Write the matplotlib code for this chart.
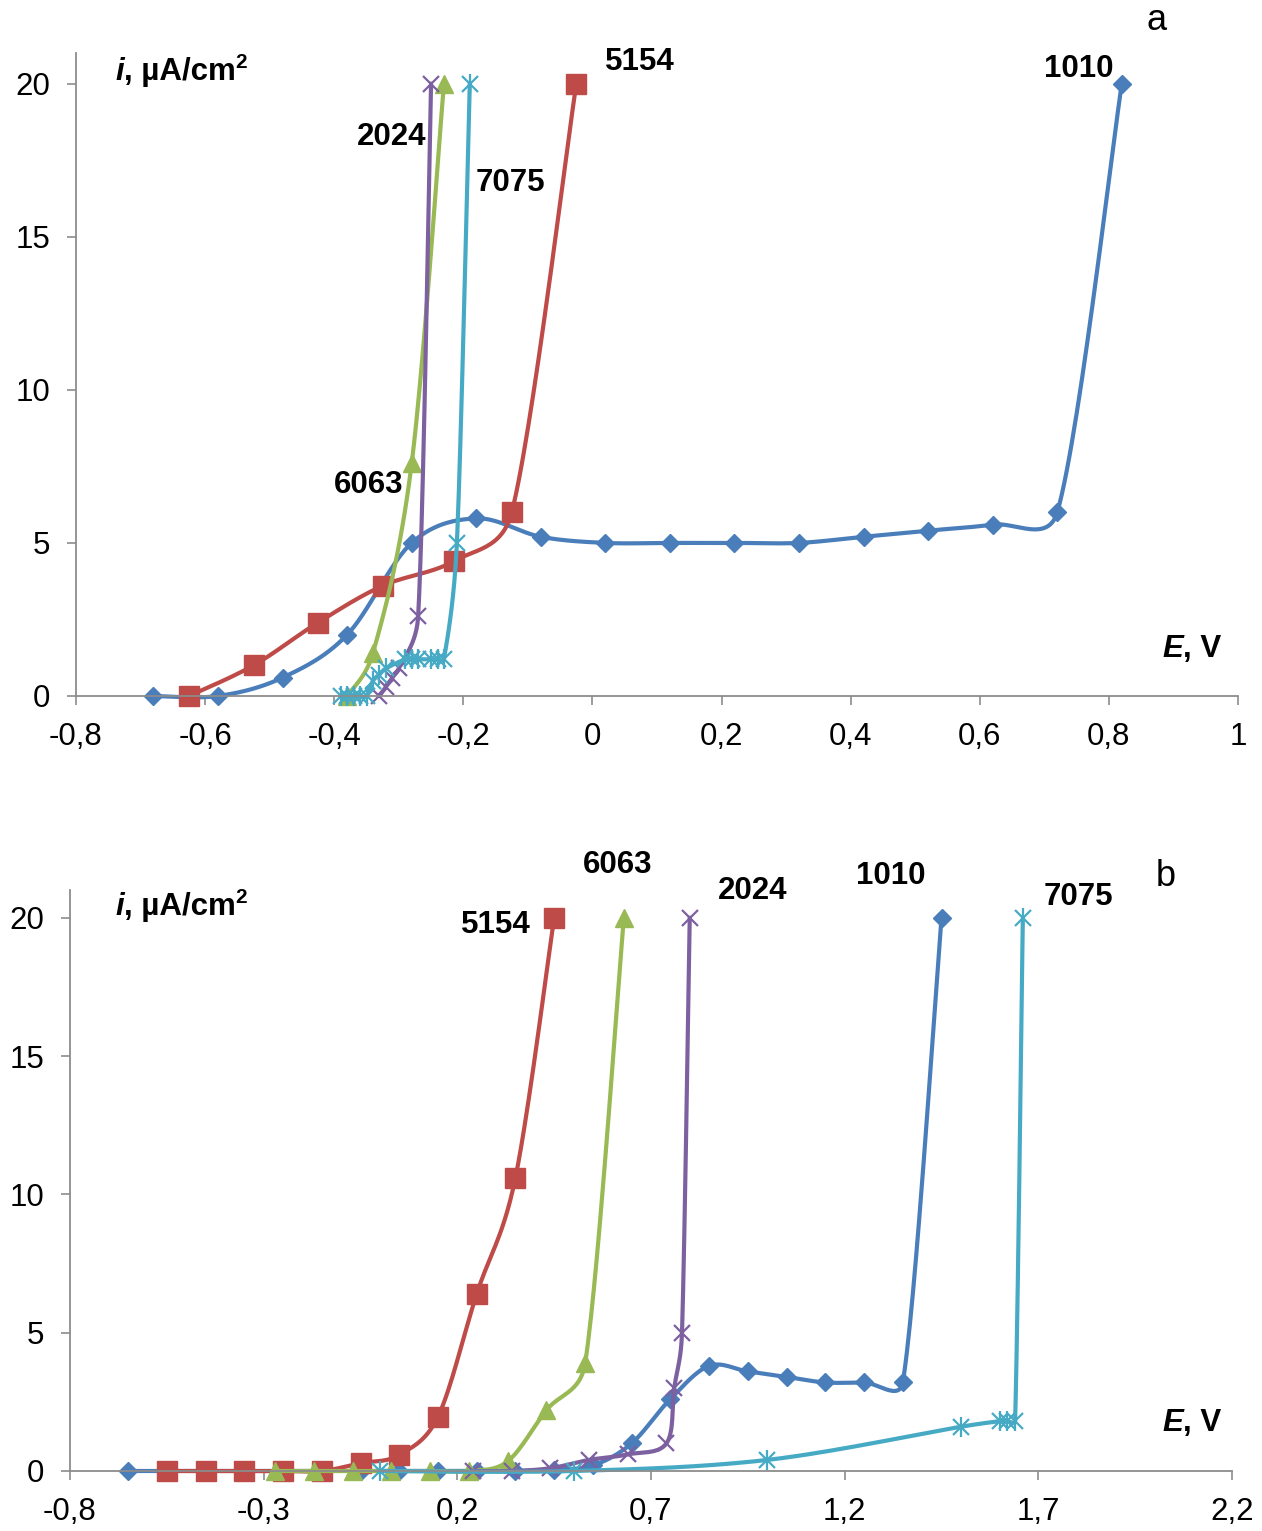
import numpy as np
import matplotlib
matplotlib.use("Agg")
import matplotlib.pyplot as plt
from matplotlib.ticker import FuncFormatter

plt.rcParams['font.family'] = ['Liberation Sans', 'DejaVu Sans']

W, H = 1262, 1531

# colours of the series
C1010 = '#4A7EBB'
C5154 = '#BE4B48'
C6063 = '#98B954'
C2024 = '#7D60A0'
C7075 = '#46AAC5'

# ---- panel a data (E in V, i in uA/cm2) ----
a_1010_E = [-0.68, -0.58, -0.48, -0.38, -0.28, -0.18, -0.08, 0.02, 0.12, 0.22, 0.32, 0.42, 0.52, 0.62, 0.72, 0.82]
a_1010_i = [0, 0, 0.6, 2.0, 5.0, 5.8, 5.2, 5.0, 5.0, 5.0, 5.0, 5.2, 5.4, 5.6, 6.0, 20]
a_5154_E = [-0.625, -0.525, -0.425, -0.325, -0.215, -0.125, -0.025]
a_5154_i = [0, 1.0, 2.4, 3.6, 4.4, 6.0, 20]
a_6063_E = [-0.38, -0.34, -0.28, -0.23]
a_6063_i = [0, 1.4, 7.6, 20]
a_2024_E = [-0.33, -0.32, -0.31, -0.30, -0.27, -0.25]
a_2024_i = [0, 0.3, 0.6, 0.9, 2.6, 20]
a_7075_E = [-0.39, -0.38, -0.37, -0.36, -0.35, -0.34, -0.33, -0.32, -0.29, -0.28, -0.27, -0.25, -0.24, -0.23, -0.21, -0.19]
a_7075_i = [0, 0, 0, 0, 0, 0.5, 0.7, 0.9, 1.2, 1.2, 1.2, 1.2, 1.2, 1.2, 5.0, 20]

# ---- panel b data ----
b_1010_E = [-0.65, -0.55, -0.45, -0.35, -0.25, -0.15, -0.05, 0.05, 0.15, 0.25, 0.35,
            0.45, 0.55, 0.65, 0.75, 0.85, 0.95, 1.05, 1.15, 1.25, 1.35, 1.45]
b_1010_i = [0, 0, 0, 0, 0, 0, 0, 0, 0, 0, 0,
            0.05, 0.2, 1.0, 2.6, 3.8, 3.6, 3.4, 3.2, 3.2, 3.2, 20]
b_5154_E = [-0.55, -0.45, -0.35, -0.25, -0.15, -0.05, 0.05, 0.15, 0.25, 0.35, 0.45]
b_5154_i = [0, 0, 0, 0, 0, 0.28, 0.58, 1.96, 6.4, 10.6, 20]
b_6063_E = [-0.27, -0.17, -0.07, 0.03, 0.13, 0.23, 0.33, 0.43, 0.53, 0.63]
b_6063_i = [0, 0, 0, 0, 0, 0, 0.35, 2.2, 3.9, 20]
b_2024_E = [0.24, 0.34, 0.44, 0.54, 0.64, 0.74, 0.76, 0.78, 0.80]
b_2024_i = [0, 0, 0.1, 0.4, 0.6, 1.0, 3.0, 5.0, 20]
b_7075_E = [0.0, 0.5, 1.0, 1.5, 1.6, 1.62, 1.64, 1.66]
b_7075_i = [0, 0, 0.4, 1.6, 1.8, 1.8, 1.8, 20]

xticks_a = [-0.8, -0.6, -0.4, -0.2, 0, 0.2, 0.4, 0.6, 0.8, 1]
xticks_b = [-0.8, -0.3, 0.2, 0.7, 1.2, 1.7, 2.2]
yticks = [0, 5, 10, 15, 20]

FS = 22.5  # tick and label font size


def comma(v, pos=None):
    s = ('%.1f' % v).rstrip('0').rstrip('.')
    if s == '-0':
        s = '0'
    return s.replace('.', ',')


def smooth(ax, x, y, n=30, k=0.5):
    # smoothed line like Excel's: Catmull-Rom style Bezier in display space,
    # control arms capped relative to the current segment length
    pts = ax.transData.transform(np.column_stack([x, y]))
    P = np.vstack([pts[0], pts, pts[-1]])
    t = np.linspace(0, 1, n)[:, None]
    segs = []
    for j in range(1, len(P) - 2):
        p0, p1, p2, p3 = P[j - 1], P[j], P[j + 1], P[j + 2]
        L = np.hypot(*(p2 - p1))
        d1 = p2 - p0
        d2 = p3 - p1
        n1 = np.hypot(*d1) or 1
        n2 = np.hypot(*d2) or 1
        c1 = p1 + d1 / n1 * min(n1 / 6, k * L)
        c2 = p2 - d2 / n2 * min(n2 / 6, k * L)
        segs.append((1 - t) ** 3 * p1 + 3 * (1 - t) ** 2 * t * c1 + 3 * (1 - t) * t ** 2 * c2 + t ** 3 * p2)
    return ax.transData.inverted().transform(np.vstack(segs)).T


def series(ax, x, y, color, marker):
    sx, sy = smooth(ax, x, y)
    ax.plot(sx, sy, color=color, lw=3, clip_on=False, solid_capstyle='round')
    if marker == 'D':
        ax.plot(x, y, 'D', color=color, ms=9, mec=color, clip_on=False)
    elif marker == 's':
        ax.plot(x, y, 's', color=color, ms=14, mec=color, clip_on=False)
    elif marker == '^':
        ax.plot(x, y, '^', color=color, ms=13, mec=color, clip_on=False)
    elif marker == 'x':
        ax.plot(x, y, 'x', color=color, ms=12, mew=1.6, clip_on=False)
    else:
        ax.plot(x, y, 'x', color=color, ms=12, mew=1.6, clip_on=False)
        ax.plot(x, y, '|', color=color, ms=15, mew=1.6, clip_on=False)


def make_axes(fig, left, right, top, bottom, xlim, xticks):
    ax = fig.add_axes([left / W, 1 - bottom / H, (right - left) / W, (bottom - top) / H])
    ax.set_xlim(*xlim)
    ax.set_ylim(0, 21)
    ax.set_xticks(xticks)
    ax.set_yticks(yticks)
    ax.xaxis.set_major_formatter(FuncFormatter(comma))
    ax.yaxis.set_major_formatter(FuncFormatter(comma))
    for s in ['top', 'right']:
        ax.spines[s].set_visible(False)
    for s in ['left', 'bottom']:
        ax.spines[s].set_color('#8C8C8C')
        ax.spines[s].set_linewidth(1.3)
    ax.tick_params(axis='both', direction='out', length=6.5, width=1.2, color='#8C8C8C',
                   labelsize=FS, labelcolor='black')
    ax.tick_params(axis='x', pad=12)
    ax.tick_params(axis='y', pad=12)
    ax.patch.set_alpha(0)
    return ax


def ftext(fig, x, y, s, **kw):
    return fig.text(x / W, 1 - y / H, s, **kw)


fig = plt.figure(figsize=(W / 100, H / 100), dpi=100)
fig.patch.set_facecolor('white')

ax_a = make_axes(fig, 76, 1238, 53, 696, (-0.8, 1.0), xticks_a)
ax_b = make_axes(fig, 70, 1232, 890, 1471, (-0.8, 2.2), xticks_b)

series(ax_a, a_1010_E, a_1010_i, C1010, 'D')
series(ax_a, a_5154_E, a_5154_i, C5154, 's')
series(ax_a, a_6063_E, a_6063_i, C6063, '^')
series(ax_a, a_2024_E, a_2024_i, C2024, 'x')
series(ax_a, a_7075_E, a_7075_i, C7075, '*')

series(ax_b, b_1010_E, b_1010_i, C1010, 'D')
series(ax_b, b_5154_E, b_5154_i, C5154, 's')
series(ax_b, b_6063_E, b_6063_i, C6063, '^')
series(ax_b, b_2024_E, b_2024_i, C2024, 'x')
series(ax_b, b_7075_E, b_7075_i, C7075, '*')

bold = dict(fontsize=FS, fontweight='bold', ha='center', va='center')

# panel a labels
ftext(fig, 1157, 20, 'a', fontsize=26, ha='center', va='center')
ftext(fig, 640, 62, '5154', **bold)
ftext(fig, 1079, 69, '1010', **bold)
ftext(fig, 392, 137, '2024', **bold)
ftext(fig, 510, 183, '7075', **bold)
ftext(fig, 369, 485, '6063', **bold)

# panel b labels
ftext(fig, 1166, 877, 'b', fontsize=26, ha='center', va='center')
ftext(fig, 618, 865, '6063', **bold)
ftext(fig, 753, 891, '2024', **bold)
ftext(fig, 891, 876, '1010', **bold)
ftext(fig, 1078, 897, '7075', **bold)
ftext(fig, 496, 925, '5154', **bold)

# axis titles: italic bold symbol followed by bold units
for (xi, yi) in [(115, 87), (115, 922)]:
    t = ftext(fig, xi, yi, 'i', fontsize=FS, fontweight='bold', fontstyle='italic',
              ha='left', va='bottom')
    t2 = plt.annotate(', \u00b5A/cm', xy=(1, 0), xycoords=t, fontsize=FS, fontweight='bold',
                      ha='left', va='bottom')
    plt.annotate('2', xy=(1, 0), xycoords=t2, xytext=(0, 10.5), textcoords='offset points',
                 fontsize=15, fontweight='bold', ha='left', va='bottom')
for (xe, ye) in [(1162, 664), (1162, 1438)]:
    t = ftext(fig, xe, ye, 'E', fontsize=FS, fontweight='bold', fontstyle='italic',
              ha='left', va='bottom')
    plt.annotate(', V', xy=(1, 0), xycoords=t, fontsize=FS, fontweight='bold',
                 ha='left', va='bottom')

fig.savefig('out.png', dpi=100, facecolor='white')
